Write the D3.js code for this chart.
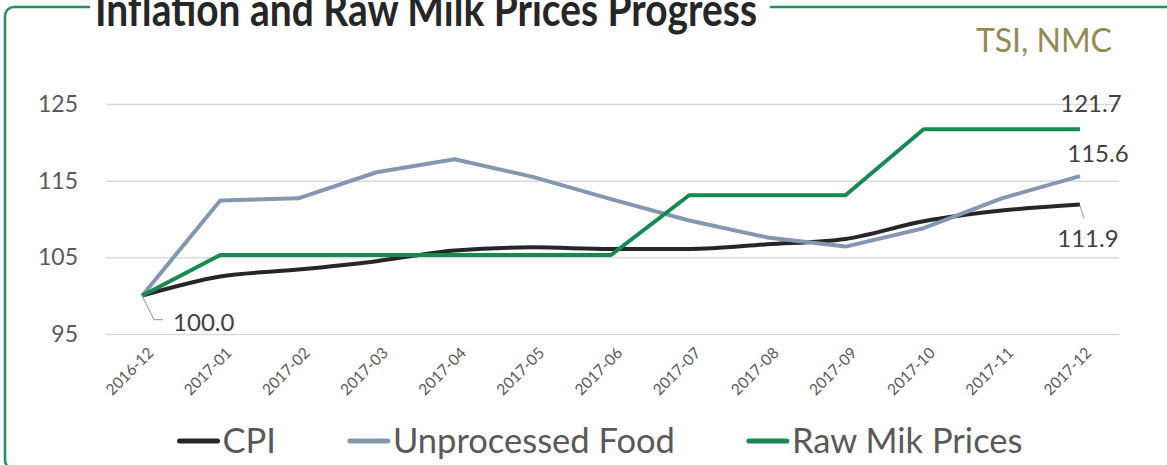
<!DOCTYPE html>
<html>
<head>
<meta charset="utf-8">
<script src="https://cdn.jsdelivr.net/npm/d3@7"></script>
<style>
  body { margin: 0; background: #fff; }
  svg { display: block; font-family: Lato, "Open Sans", sans-serif; }
</style>
</head>
<body>
<svg id="chart" width="1167" height="465"></svg>
<script>
"use strict"

let months = ["2016-12", "2017-01", "2017-02", "2017-03", "2017-04", "2017-05", "2017-06",
              "2017-07", "2017-08", "2017-09", "2017-10", "2017-11", "2017-12"]
let cpi = [100, 102.5, 103.4, 104.5, 105.9, 106.3, 106.1, 106.1, 106.7, 107.4, 109.7, 111.1, 111.9]
let food = [100, 112.4, 112.7, 116.1, 117.8, 115.5, 112.6, 109.8, 107.6, 106.4, 108.8, 112.7, 115.6]
let milk = [100, 105.3, 105.3, 105.3, 105.3, 105.3, 105.3, 113.1, 113.1, 113.1, 121.7, 121.7, 121.7]
let yTicks = [95, 105, 115, 125]
let seriesNames = ["CPI", "Unprocessed Food", "Raw Mik Prices"]

let colors = ["#262626", "#8497B0", "#178A52"]
let series = [cpi, food, milk]

let svg = d3.select("#chart")

// border with the title cut into it (right and bottom run off the picture)
svg.append("rect")
    .attr("x", 5).attr("y", 7)
    .attr("width", 1250).attr("height", 462)
    .attr("rx", 9)
    .attr("fill", "none")
    .attr("stroke", "#1E9458")
    .attr("stroke-width", 2.5)

svg.append("rect")
    .attr("x", 90).attr("y", 0)
    .attr("width", 680).attr("height", 20)
    .attr("fill", "#fff")

let title = svg.append("text")
    .attr("transform", "translate(95,26) scale(1,1.18)")
    .attr("font-weight", "bold")
    .attr("font-size", 36)
    .attr("fill", "#262626")
    .text("Inflation and Raw Milk Prices Progress")
let tw = title.node().getComputedTextLength()
title.attr("font-size", 36 * 662 / tw)

svg.append("text")
    .attr("x", 1112).attr("y", 52)
    .attr("text-anchor", "end")
    .attr("font-size", 32)
    .attr("fill", "#948A54")
    .text("TSI, NMC")

let x = d3.scalePoint().domain(months).range([103, 1119]).padding(0.5)
let y = d3.scaleLinear().domain([95, 125]).range([334, 104])

// gridlines and y labels
let yAxis = svg.append("g")
    .attr("transform", "translate(106,0)")
    .call(d3.axisLeft(y).tickValues(yTicks).tickSize(-(1119 - 106)).tickPadding(28))
yAxis.select(".domain").remove()
yAxis.selectAll(".tick line").attr("stroke", "#D9D9D9").attr("stroke-width", 1.5)
yAxis.selectAll(".tick text")
    .attr("font-family", "Lato, sans-serif")
    .attr("font-size", 23)
    .attr("fill", "#595959")

// x labels
let xAxis = svg.append("g")
    .attr("transform", "translate(0,334)")
    .call(d3.axisBottom(x).tickSize(0))
xAxis.select(".domain").remove()
xAxis.selectAll(".tick text")
    .attr("font-family", "Lato, sans-serif")
    .attr("font-size", 15.5)
    .attr("fill", "#595959")
    .attr("text-anchor", "end")
    .attr("dy", "0.35em")
    .attr("transform", "translate(6,14) rotate(-45)")

// lines
series.forEach(function(vals, s) {
    let line = d3.line()
        .x(function(d, i) { return x(months[i]) })
        .y(function(d) { return y(d) })
    if (s == 0) line.curve(d3.curveMonotoneX)
    svg.append("path")
        .datum(vals)
        .attr("d", line)
        .attr("fill", "none")
        .attr("stroke", colors[s])
        .attr("stroke-width", 4)
        .attr("stroke-linejoin", "round")
})

// data labels
let last = months.length - 1
let labels = [
    { v: cpi[0], i: 0, dx: 31, dy: 35, anchor: "start", leader: [[0, 0], [12, 24], [21, 24]] },
    { v: milk[last], i: last, dx: 11, dy: -17, anchor: "middle" },
    { v: food[last], i: last, dx: 18, dy: -14, anchor: "middle" },
    { v: cpi[last], i: last, dx: 8, dy: 43, anchor: "middle", leader: [[0, 1], [4, 14]] }
]
labels.forEach(function(l) {
    let px = x(months[l.i]), py = y(l.v)
    if (l.leader) {
        svg.append("path")
            .attr("d", d3.line()(l.leader.map(function(p) { return [px + p[0], py + p[1]] })))
            .attr("fill", "none")
            .attr("stroke", "#A6A6A6")
            .attr("stroke-width", 1.2)
    }
    svg.append("text")
        .attr("x", px + l.dx).attr("y", py + l.dy)
        .attr("text-anchor", l.anchor)
        .attr("font-size", 24)
        .attr("fill", "#404040")
        .text(l.v.toFixed(1))
})

// legend
let legend = svg.append("g")
let lx = 0
seriesNames.forEach(function(name, s) {
    let g = legend.append("g").attr("transform", "translate(" + lx + ",0)")
    g.append("line")
        .attr("x1", 2).attr("x2", 40)
        .attr("y1", 441).attr("y2", 441)
        .attr("stroke", colors[s])
        .attr("stroke-width", 5)
        .attr("stroke-linecap", "round")
    let t = g.append("text")
        .attr("x", 45).attr("y", 453)
        .attr("font-size", 34.5)
        .attr("fill", "#595959")
        .text(name)
    lx += 45 + t.node().getComputedTextLength() + 72
})
lx -= 72
legend.attr("transform", "translate(" + (600 - lx / 2) + ",0)")
</script>
</body>
</html>
